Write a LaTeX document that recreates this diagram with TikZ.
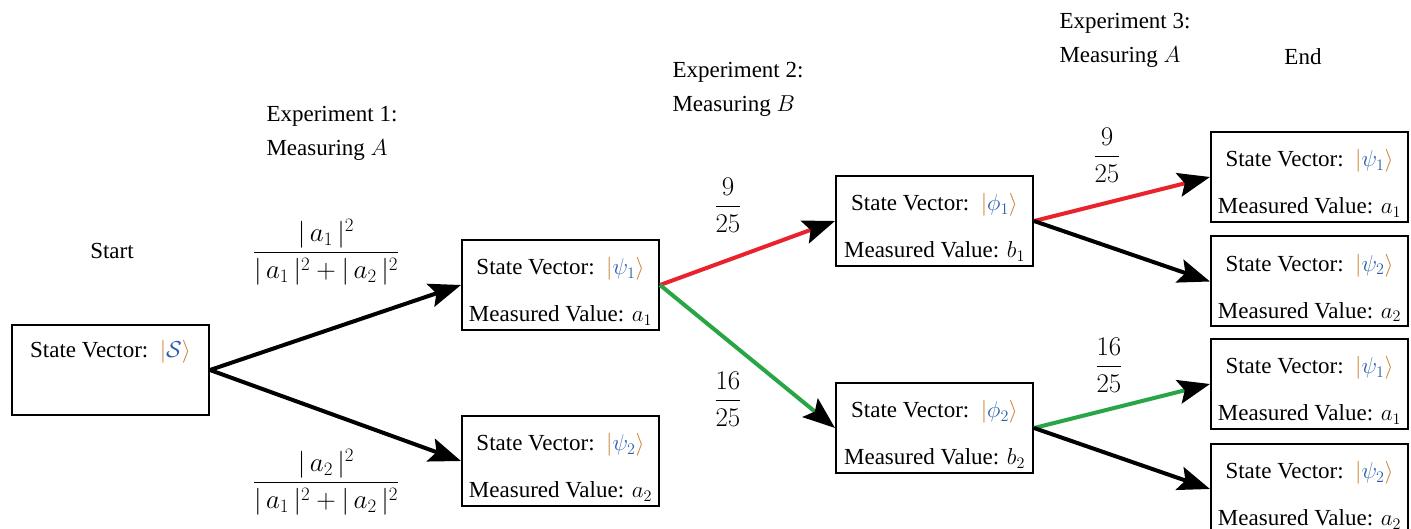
\RequirePackage{fix-cm}
\documentclass[tikz,border=0pt]{standalone}
\usepackage{amsmath}
\usepackage{fontspec}
\setmainfont{Liberation Serif}
\usetikzlibrary{arrows.meta}

\definecolor{ketbar}{RGB}{205,125,45}
\definecolor{ketsym}{RGB}{45,95,170}
\definecolor{pathred}{RGB}{232,35,45}
\definecolor{pathgreen}{RGB}{40,165,70}

% coloured ket and the two text lines of a state box
\newcommand{\ketv}[1]{{\color{ketbar}|}{\color{ketsym}#1}{\color{ketbar}\rangle}}
\newcommand{\svline}[1]{\rule{0pt}{30pt}State Vector:\ \ $\ketv{#1}$}
\newcommand{\mvline}[1]{Measured Value: $#1$}
\newcommand{\boxtext}[2]{\svline{#1}\\[20pt]\mvline{#2}}

\begin{document}
\begin{tikzpicture}[x=1pt,y=-1pt,
  font=\fontsize{23}{27}\selectfont,
  statebox/.style={draw, line width=2pt, minimum width=197pt,
    minimum height=90pt, align=center, inner sep=1pt},
  flow/.style={line width=4pt,
    -{Stealth[length=32pt,width=24pt,inset=6pt,color=black]}},
  caption/.style={anchor=west, align=left},
  prob/.style={inner sep=0pt, font=\fontsize{27}{32}\selectfont}]
\useasboundingbox (0,0) rectangle (1411,529);

% state boxes
\node[statebox] (start) at (110.5,370) {\svline{\mathcal{S}}\\[20pt]\strut};
\node[statebox] (psiA)  at (560.5,285) {\boxtext{\psi_1}{a_1}};
\node[statebox] (psiB)  at (560.5,461) {\boxtext{\psi_2}{a_2}};
\node[statebox] (phiA)  at (934.5,221) {\boxtext{\phi_1}{b_1}};
\node[statebox] (phiB)  at (934.5,428) {\boxtext{\phi_2}{b_2}};
\node[statebox] (endA)  at (1309.5,177) {\boxtext{\psi_1}{a_1}};
\node[statebox] (endB)  at (1309.5,281.5) {\boxtext{\psi_2}{a_2}};
\node[statebox] (endC)  at (1309.5,384) {\boxtext{\psi_1}{a_1}};
\node[statebox] (endD)  at (1309.5,489) {\boxtext{\psi_2}{a_2}};

% stage captions
\node (lstart) at (112,251) {Start};
\node[caption] (lexp1) at (263,133) {Experiment 1:\\[7pt]Measuring $A$};
\node[caption] (lexp2) at (669,89) {Experiment 2:\\[7pt]Measuring $B$};
\node[caption] (lexp3) at (1056,40) {Experiment 3:\\[7pt]Measuring $A$};
\node (lend) at (1303,57) {End};

% branch probabilities
\node[prob] (pA) at (326,252) {$\dfrac{|\,a_1\,|^2}{|\,a_1\,|^2+|\,a_2\,|^2}$};
\node[prob] (pB) at (326,482) {$\dfrac{|\,a_2\,|^2}{|\,a_1\,|^2+|\,a_2\,|^2}$};
\node[prob] (pC) at (728,205) {$\dfrac{9}{25}$};
\node[prob] (pD) at (728,399) {$\dfrac{16}{25}$};
\node[prob] (pE) at (1107,155) {$\dfrac{9}{25}$};
\node[prob] (pF) at (1109,365) {$\dfrac{16}{25}$};

% transitions
\draw[flow] (start.east) -- (psiA.west);
\draw[flow] (start.east) -- (psiB.west);
\draw[flow, pathred] (psiA.east) -- (phiA.west);
\draw[flow, pathgreen] (psiA.east) -- (phiB.west);
\draw[flow, pathred] (phiA.east) -- (endA.west);
\draw[flow] (phiA.east) -- (endB.west);
\draw[flow, pathgreen] (phiB.east) -- (endC.west);
\draw[flow] (phiB.east) -- (endD.west);
\end{tikzpicture}
\end{document}
